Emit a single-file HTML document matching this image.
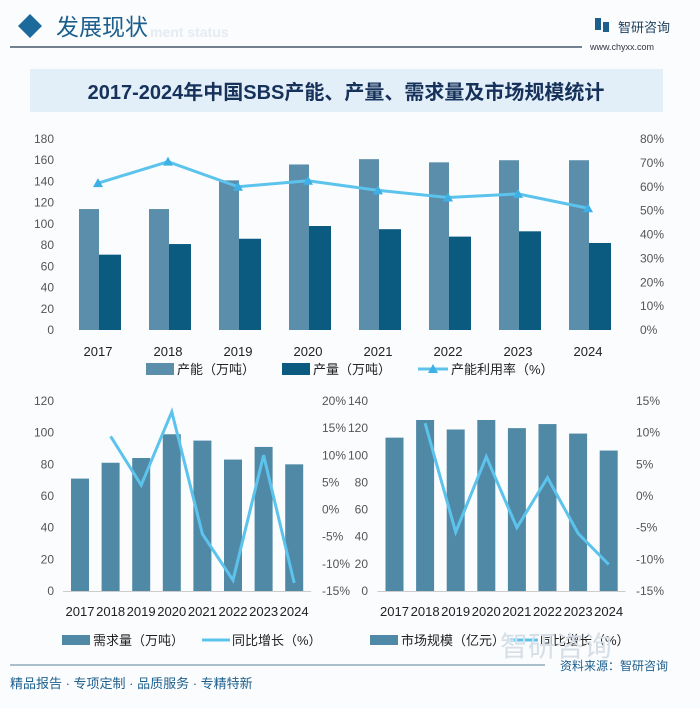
<!DOCTYPE html>
<html><head><meta charset="utf-8">
<style>
body{margin:0;width:700px;height:703px;background:#fbfcfe;overflow:hidden;font-family:"Liberation Sans","Noto Sans CJK SC",sans-serif;}
svg text{font-family:"Liberation Sans","Noto Sans CJK SC",sans-serif;}
</style></head>
<body>
<svg width="700" height="703" viewBox="0 0 700 703" xmlns="http://www.w3.org/2000/svg">
<rect x="0" y="0" width="700" height="703" fill="#fbfcfe"/>
<g>
<polygon points="30,14 42,26 30,38 18,26" fill="#1c6a9c"/>
<text x="56" y="35" font-size="23" fill="#1c5f8c" font-family="Noto Sans CJK SC">发展现状</text>
<text x="150" y="37" font-size="14" font-weight="bold" fill="#e4ebf2">ment status</text>
<line x1="10" y1="47" x2="582" y2="47" stroke="#44586a" stroke-width="1.5"/>
<rect x="595" y="18" width="6" height="12" fill="#1c5f8c"/><rect x="603" y="22" width="6" height="10" fill="#1c5f8c"/>
<text x="618" y="32" font-size="13" fill="#1c3f5c">智研咨询</text>
<text x="590" y="50" font-size="9" fill="#334" font-family="Liberation Mono">www.chyxx.com</text>
</g>
<rect x="30" y="69" width="633" height="43" fill="#e2eef8"/>
<text x="346" y="99" font-size="20" fill="#17325a" text-anchor="middle" font-family="Liberation Serif,Noto Serif CJK SC,serif" font-weight="bold">2017-2024年中国SBS产能、产量、需求量及市场规模统计</text>
<g id="top"></g>
<g id="bl"></g>
<g id="br"></g>
<line x1="10" y1="665" x2="545" y2="665" stroke="#5a7f98" stroke-width="1"/>
<text x="10" y="688" font-size="13" fill="#1c5f8c">精品报告 · 专项定制 · 品质服务 · 专精特新</text>
<text x="560" y="670" font-size="12" fill="#1c5f8c">资料来源：智研咨询</text>
<text x="500" y="656" font-size="28" fill="#d6dee6">智研咨询</text>
</svg>
<script>
const years=["2017","2018","2019","2020","2021","2022","2023","2024"];
const capacity=[114,114,141,156,161,158,160,160];
const production=[71,81,86,98,95,88,93,82];
const utilization=[61.5,70.5,60,62.5,58.5,55.5,57,51];
const topLeftTicks=[0,20,40,60,80,100,120,140,160,180];
const topRightTicks=[0,10,20,30,40,50,60,70,80];
const demand=[71,81,84,99,95,83,91,80];
const demandGrowth=[null,13.5,4.5,18,-4.5,-13,10,-13.5];
const blLeftTicks=[0,20,40,60,80,100,120];
const blRightTicks=[-15,-10,-5,0,5,10,15,20];
const market=[113,126,119,126,120,123,116,103.5];
const marketGrowth=[null,11.5,-5.7,6.2,-5,2.9,-5.9,-10.8];
const brLeftTicks=[0,20,40,60,80,100,120,140];
const brRightTicks=[-15,-10,-5,0,5,10,15];
const NS="http://www.w3.org/2000/svg";
function mk(p,tag,a,txt){const e=document.createElementNS(NS,tag);for(const k in a)e.setAttribute(k,a[k]);if(txt!=null)e.textContent=txt;p.appendChild(e);return e;}
function lin(d0,d1,r0,r1){return v=>r0+(v-d0)/(d1-d0)*(r1-r0);}
(function(){const g=document.getElementById('top');
const y=lin(0,180,330,139), yr=lin(0,80,330,139), x=i=>98+i*70;
topLeftTicks.forEach(t=>{const e=mk(g,'text',{x:54,y:y(t)+4,'font-size':12,fill:'#555','text-anchor':'end'},t);});
topRightTicks.forEach(t=>{const e=mk(g,'text',{x:640,y:yr(t)+4,'font-size':12,fill:'#555'},t+'%');});
years.forEach((yy,i)=>{
let e=mk(g,'rect',{x:x(i)-19,y:y(capacity[i]),width:20,height:y(0)-y(capacity[i]),fill:'#5b8eaa'});
e=mk(g,'rect',{x:x(i)+1,y:y(production[i]),width:22,height:y(0)-y(production[i]),fill:'#0b5a80'});
e=mk(g,'text',{x:x(i),y:356,'font-size':13,fill:'#222','text-anchor':'middle'},yy);});
let pts=utilization.map((v,i)=>x(i)+','+yr(v)).join(' ');
let e=mk(g,'polyline',{points:pts,fill:'none',stroke:'#5cc3ec','stroke-width':3});
utilization.forEach((v,i)=>{const m=mk(g,'polygon',{points:`${x(i)},${yr(v)-5} ${x(i)-5},${yr(v)+4} ${x(i)+5},${yr(v)+4}`,fill:'#3fb0e6'});});
e=mk(g,'rect',{x:146,y:363,width:28,height:12,fill:'#5b8eaa'});
e=mk(g,'text',{x:177,y:374,'font-size':13,fill:'#222'},'产能（万吨）');
e=mk(g,'rect',{x:282,y:363,width:28,height:12,fill:'#0b5a80'});
e=mk(g,'text',{x:313,y:374,'font-size':13,fill:'#222'},'产量（万吨）');
e=mk(g,'line',{x1:418,y1:369,x2:448,y2:369,stroke:'#5cc3ec','stroke-width':3});
e=mk(g,'polygon',{points:'433,364 428,373 438,373',fill:'#3fb0e6'});
e=mk(g,'text',{x:451,y:374,'font-size':13,fill:'#222'},'产能利用率（%）');
})();
function bottom(gid,vals,gr,lt,rt,lmax,rmin,rmax,x0,lx,rx,legendX,legendLabel){
const g=document.getElementById(gid);
const y=lin(0,lmax,591,401), yr=lin(rmin,rmax,591,401), x=i=>x0+i*30.6;
lt.forEach(t=>{const e=mk(g,'text',{x:lx,y:y(t)+4,'font-size':12,fill:'#555','text-anchor':'end'},t);});
rt.forEach(t=>{const e=mk(g,'text',{x:rx,y:yr(t)+4,'font-size':12,fill:'#555'},t+'%');});
let e=mk(g,'line',{x1:x0-17,y1:591.5,x2:x(7)+17,y2:591.5,stroke:'#ccc'});
years.forEach((yy,i)=>{
let b=mk(g,'rect',{x:x(i)-9,y:y(vals[i]),width:18,height:y(0)-y(vals[i]),fill:'#5089a6'});
b=mk(g,'text',{x:x(i),y:616,'font-size':13,fill:'#222','text-anchor':'middle',textLength:29,lengthAdjust:'spacingAndGlyphs'},yy);});
const pts=gr.map((v,i)=>v==null?null:x(i)+','+yr(v)).filter(p=>p).join(' ');
e=mk(g,'polyline',{points:pts,fill:'none',stroke:'#5cc3ec','stroke-width':3});
e=mk(g,'rect',{x:legendX,y:635,width:28,height:10,fill:'#5089a6'});
e=mk(g,'text',{x:legendX+31,y:645,'font-size':13,fill:'#222'},legendLabel);
e=mk(g,'line',{x1:legendX+140,y1:640,x2:legendX+168,y2:640,stroke:'#5cc3ec','stroke-width':3});
e=mk(g,'text',{x:legendX+170,y:645,'font-size':13,fill:'#222'},'同比增长（%）');
}
bottom('bl',demand,demandGrowth,blLeftTicks,blRightTicks,120,-15,20,80,54,322,62,'需求量（万吨）');
bottom('br',market,marketGrowth,brLeftTicks,brRightTicks,140,-15,15,394.5,368,636,370,'市场规模（亿元）');
</script>
</body></html>
